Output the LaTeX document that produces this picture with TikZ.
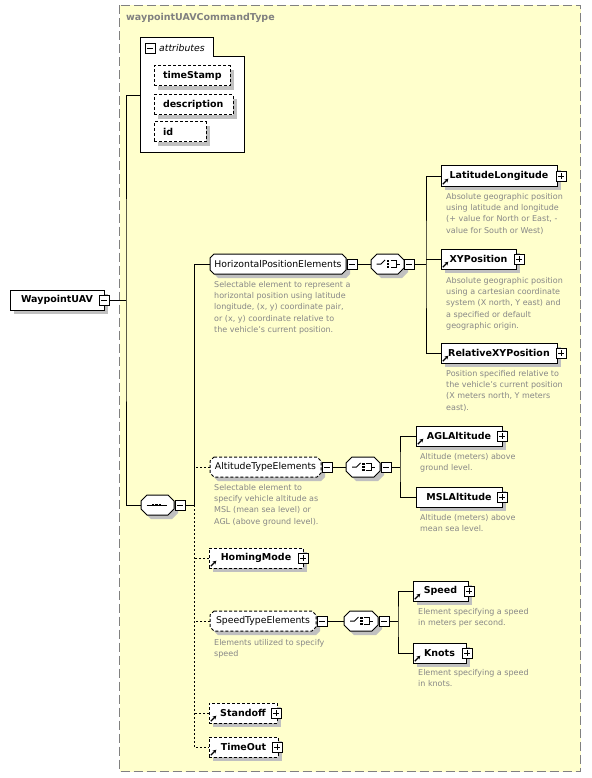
\documentclass[tikz,border=0pt]{standalone}
\usepackage{fontspec}
\setmainfont{DejaVu Sans}
\usetikzlibrary{arrows.meta,calc}
\definecolor{bgyellow}{RGB}{255,255,204}
\definecolor{framegray}{RGB}{128,128,128}
\definecolor{descgray}{RGB}{135,135,135}
\definecolor{shadowc}{RGB}{192,192,192}
\newcommand\namefont{\fontsize{9.5pt}{11pt}\selectfont\bfseries}
\newcommand\grpfont{\fontsize{9.3pt}{11pt}\selectfont}
\newcommand\descfont{\fontsize{8pt}{11.3pt}\selectfont}
\tikzset{
  conn/.style={line width=1pt},
  opt/.style={conn, dash pattern=on 2pt off 2pt},
  elembox/.style={draw, fill=white, line width=1pt, inner sep=0pt, outer sep=0pt, minimum height=20pt, font=\namefont},
  grpnode/.style={inner sep=0pt, outer sep=0pt, font=\grpfont},
  dashedbox/.style={dash pattern=on 3pt off 2pt},
  refel/.style={path picture={\draw[solid, line width=1.2pt,-{Stealth[length=3.6pt,width=4pt]}] ([shift={(1.8pt,1.8pt)}]path picture bounding box.south west) -- ++(5.5pt,5.5pt);}},
  pm/.style={draw, solid, fill=white, line width=0.8pt, minimum size=10pt, inner sep=0pt, outer sep=0pt},
  pmminus/.style={pm, path picture={\draw[line width=0.8pt] ([xshift=2pt]path picture bounding box.west) -- ([xshift=-2pt]path picture bounding box.east);}},
  pmplus/.style={pm, path picture={\draw[line width=0.8pt] ([xshift=2pt]path picture bounding box.west) -- ([xshift=-2pt]path picture bounding box.east); \draw[line width=0.8pt] ([yshift=-2pt]path picture bounding box.north) -- ([yshift=2pt]path picture bounding box.south);}},
  desc/.style={anchor=north west, inner sep=0pt, align=left, text=descgray, font=\descfont},
  seqicon/.pic={\draw[line width=1pt] (-11,0) -- (9.5,0);
    \foreach \d in {-4.5,-1,2.5} \fill (\d-1.3,-1.4) rectangle (\d+1.3,1.4);},
  choiceicon/.pic={\draw[line width=1pt] (-11,0) -- (-6.5,0) -- (-2.5,-4);
    \fill (-0.8,-4.2) rectangle (1.5,-1.8); \fill (-0.8,-1.2) rectangle (1.5,1.2); \fill (-0.8,1.8) rectangle (1.5,4.2);
    \draw[line width=1pt] (3,-3.2) -- (8.5,-3.2) -- (8.5,3.2) -- (3,3.2); \draw[line width=1pt] (8.5,0) -- (12,0);}
}
\newcommand\elem[7]{%
  \pgfmathsetmacro\ew{#4-#2}\pgfmathsetmacro\eh{#5-#3}%
  \fill[shadowc] (#2+4,#3+4) rectangle (#4+4,#5+4);
  \node[elembox,#7,minimum width=\ew pt,minimum height=\eh pt] (#1) at ({(#2+#4)/2},{(#3+#5)/2}) {#6};
}
\newcommand\grp[8]{%
  \pgfmathsetmacro\ew{#4-#2}\pgfmathsetmacro\eh{#5-#3}%
  \fill[shadowc,shift={(4,4)}] (#2+#6,#3) -- (#4-#6,#3) -- (#4,#3+#6) -- (#4,#5-#6) -- (#4-#6,#5) -- (#2+#6,#5) -- (#2,#5-#6) -- (#2,#3+#6) -- cycle;
  \filldraw[fill=white,line width=1pt,#7] (#2+#6,#3) -- (#4-#6,#3) -- (#4,#3+#6) -- (#4,#5-#6) -- (#4-#6,#5) -- (#2+#6,#5) -- (#2,#5-#6) -- (#2,#3+#6) -- cycle;
  \node[grpnode,minimum width=\ew pt,minimum height=\eh pt] (#1) at ({(#2+#4)/2},{(#3+#5)/2}) {#8};
}
\begin{document}
\begin{tikzpicture}[x=1pt,y=-1pt]
\useasboundingbox (0,0) rectangle (591,778);
\fill[white] (0,0) rectangle (591,778);
% outer complex type frame
\filldraw[fill=bgyellow, draw=framegray, line width=1.3pt, dash pattern=on 9pt off 4pt] (119.5,5.5) rectangle (580.5,771.5);
\node[anchor=west, inner sep=0pt, text=framegray, font=\namefont] (title) at (126,18) {waypointUAVCommandType};
% attributes container
\filldraw[fill=white, line width=1pt] (140,153) -- (140,38) -- (213,38) -- (213,57) -- (244,57) -- (244,153) -- cycle;
\node[pmminus] (attrm) at (150,48) {};
\node[anchor=west, inner sep=0pt, font=\grpfont\itshape] (attrt) at (159,48) {attributes};
\coordinate (attrw) at (140,96);
\elem{ts}{154}{66}{230}{86}{\makebox[58pt][l]{timeStamp}}{dashedbox}
\elem{de}{154}{95}{233}{115}{\makebox[61pt][l]{description}}{dashedbox}
\elem{id}{154}{122}{206}{142}{\makebox[34pt][l]{id}}{dashedbox}
% root element
\elem{wp}{10}{290}{104}{310}{WaypointUAV}{}
\node[pmminus] (wpm) at (104,300) {};
% sequence
\grp{seq}{141}{495}{174}{515}{6}{}{}
\pic at (157.5,505) {seqicon};
\node[pmminus] (seqm) at (180,505) {};
% HorizontalPositionElements
\grp{hpe}{210}{254}{346}{274}{4}{}{HorizontalPositionElements}
\node[pmminus] (hpem) at (352,264) {};
\grp{ch1}{371}{254}{404}{274}{6}{}{}
\pic at (387.5,264) {choiceicon};
\node[pmminus] (ch1m) at (409,264) {};
\node[desc] (d1) at (214,281) {Selectable element to represent a\\horizontal position using latitude\\longitude, (x, y) coordinate pair,\\or (x, y) coordinate relative to\\the vehicle’s current position.};
\elem{ll}{441}{166}{557}{186}{LatitudeLongitude}{refel}
\node[pmplus] (llp) at (561,176) {};
\node[desc] (d2) at (446,193) {Absolute geographic position\\using latitude and longitude\\(+ value for North or East, -\\value for South or West)};
\elem{xy}{441}{249}{516}{269}{XYPosition}{refel}
\node[pmplus] (xyp) at (519,259) {};
\node[desc] (d3) at (446,277) {Absolute geographic position\\using a cartesian coordinate\\system (X north, Y east) and\\a specified or default\\geographic origin.};
\elem{rxy}{441}{343}{557}{363}{RelativeXYPosition}{refel}
\node[pmplus] (rxyp) at (561,353) {};
\node[desc] (d4) at (446,370) {Position specified relative to\\the vehicle’s current position\\(X meters north, Y meters\\east).};
% AltitudeTypeElements
\grp{ate}{210}{457}{321}{477}{4}{dashedbox}{AltitudeTypeElements}
\node[pmminus] (atem) at (327,467) {};
\grp{ch2}{346}{457}{380}{477}{6}{}{}
\pic at (363,467) {choiceicon};
\node[pmminus] (ch2m) at (386,467) {};
\node[desc] (d5) at (214,484) {Selectable element to\\specify vehicle altitude as\\MSL (mean sea level) or\\AGL (above ground level).};
\elem{agl}{416}{426}{502}{446}{AGLAltitude}{refel}
\node[pmplus] (aglp) at (502,436) {};
\node[desc] (d6) at (420,453) {Altitude (meters) above\\ground level.};
\elem{msl}{416}{487}{502}{507}{MSLAltitude}{}
\node[pmplus] (mslp) at (502,497) {};
\node[desc] (d7) at (420,514) {Altitude (meters) above\\mean sea level.};
% HomingMode
\elem{hm}{209}{548}{303}{568}{HomingMode}{dashedbox,refel}
\node[pmplus] (hmp) at (303,558) {};
% SpeedTypeElements
\grp{ste}{210}{611}{316}{631}{4}{dashedbox}{SpeedTypeElements}
\node[pmminus] (stem) at (322,621) {};
\grp{ch3}{344}{611}{378}{631}{6}{}{}
\pic at (361,621) {choiceicon};
\node[pmminus] (ch3m) at (384,621) {};
\node[desc] (d8) at (214,639) {Elements utilized to specify\\speed};
\elem{sp}{413}{581}{468}{601}{Speed}{refel}
\node[pmplus] (spp) at (469,591) {};
\node[desc] (d9) at (418,608) {Element specifying a speed\\in meters per second.};
\elem{kn}{413}{643}{466}{663}{Knots}{refel}
\node[pmplus] (knp) at (467,653) {};
\node[desc] (d10) at (418,669) {Element specifying a speed\\in knots.};
% Standoff, TimeOut
\elem{so}{209}{703}{277}{723}{Standoff}{dashedbox,refel}
\node[pmplus] (sop) at (276,713) {};
\elem{tmo}{209}{737}{278}{757}{TimeOut}{dashedbox,refel}
\node[pmplus] (tmop) at (277,747) {};
% connectors
\coordinate (b0) at (126,300);
\coordinate (b1) at (194,505);
\coordinate (b2) at (426,264);
\coordinate (b3) at (400,467);
\coordinate (b4) at (398,621);
\draw[conn] (wpm.east) -- (b0);
\draw[conn] (attrw) -| (b0) |- (seq.west);
\draw[conn] (seqm.east) -- (b1);
\draw[conn] (hpe.west) -| (b1);
\draw[opt] (b1) |- (tmo.west);
\draw[opt] (ate.west) -- (ate.west -| b1);
\draw[opt] (hm.west) -- (hm.west -| b1);
\draw[opt] (ste.west) -- (ste.west -| b1);
\draw[opt] (so.west) -- (so.west -| b1);
\draw[conn] (hpem.east) -- (ch1.west);
\draw[conn] (ch1m.east) -- (b2);
\draw[conn] (ll.west) -| (b2) |- (rxy.west);
\draw[conn] (xy.west) -- (xy.west -| b2);
\draw[conn] (atem.east) -- (ch2.west);
\draw[conn] (ch2m.east) -- (b3);
\draw[conn] (agl.west) -| (b3) |- (msl.west);
\draw[conn] (stem.east) -- (ch3.west);
\draw[conn] (ch3m.east) -- (b4);
\draw[conn] (sp.west) -| (b4) |- (kn.west);
\end{tikzpicture}
\end{document}
